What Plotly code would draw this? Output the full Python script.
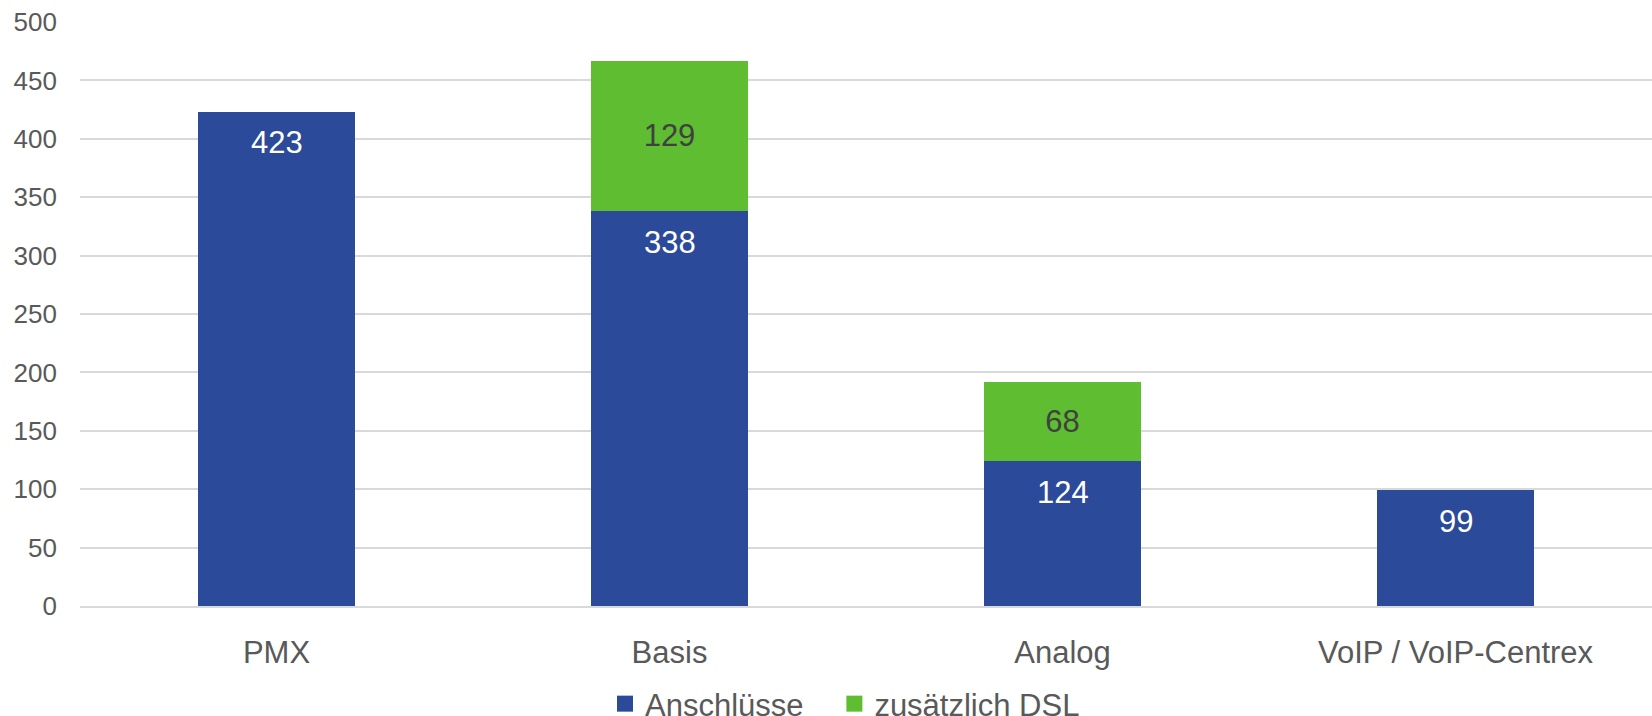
import plotly.graph_objects as go

categories = ["PMX", "Basis", "Analog", "VoIP / VoIP-Centrex"]
anschluesse = [423, 338, 124, 99]
dsl = [None, 129, 68, None]
y_ticks = [0, 50, 100, 150, 200, 250, 300, 350, 400, 450, 500]

BLUE = "#2B4A99"
GREEN = "#5EBD31"
TEXT = "#595959"
FONT = "Liberation Sans, Arial, sans-serif"
NBSP = "\u00a0"

fig = go.Figure()
fig.add_trace(go.Bar(
    x=categories, y=anschluesse, name="Anschlüsse",
    marker=dict(color=BLUE, line=dict(width=0)), showlegend=False,
))
fig.add_trace(go.Bar(
    x=categories, y=dsl, name="zusätzlich DSL",
    marker=dict(color=GREEN, line=dict(width=0)), showlegend=False,
    text=[("" if v is None else str(v)) for v in dsl],
    textposition="inside", insidetextanchor="middle", textangle=0,
    textfont=dict(size=31, color="#404040", family=FONT),
    constraintext="none",
))
# legend entries with larger square symbols
fig.add_trace(go.Scatter(x=[None], y=[None], mode="markers", name="Anschlüsse" + NBSP * 3,
                         marker=dict(symbol="square", size=17, color=BLUE)))
fig.add_trace(go.Scatter(x=[None], y=[None], mode="markers", name="zusätzlich DSL",
                         marker=dict(symbol="square", size=17, color=GREEN)))

for c, v in zip(categories, anschluesse):
    fig.add_annotation(x=c, y=v, text=str(v), showarrow=False, yshift=-31,
                       yanchor="middle", font=dict(size=31, color="white", family=FONT))

fig.update_layout(
    width=1652, height=716,
    margin=dict(l=80, r=0, t=22, b=110, autoexpand=False),
    barmode="stack", bargap=0.6,
    plot_bgcolor="white", paper_bgcolor="white",
    font=dict(family=FONT, color=TEXT),
    legend=dict(orientation="h", x=(605 - 80) / 1572, xanchor="left",
                y=-98 / 584, yanchor="middle",
                font=dict(size=31, color=TEXT), itemwidth=30, traceorder="normal",
                bgcolor="rgba(0,0,0,0)"),
)
fig.update_yaxes(range=[0, 500], tickvals=y_ticks, showgrid=True, gridcolor="#D9D9D9",
                 gridwidth=1.5, zeroline=False, showline=False, automargin=False,
                 tickfont=dict(size=26, color=TEXT), ticks="", ticklabelstandoff=22)
fig.update_xaxes(showline=True, linecolor="#D9D9D9", linewidth=1.5, ticks="",
                 automargin=False,
                 tickfont=dict(size=31, color=TEXT), ticklabelstandoff=18)

fig.write_html("out.html", config={"displayModeBar": False},
               post_script="document.body.style.margin='0';document.body.style.overflow='hidden';")
